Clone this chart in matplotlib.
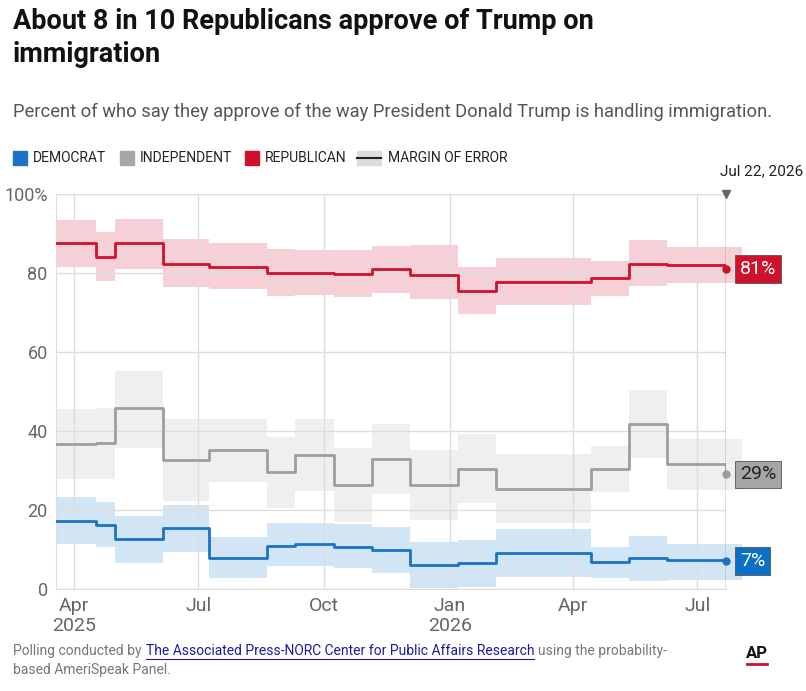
import numpy as np
import pandas as pd
import matplotlib
matplotlib.use("Agg")
import matplotlib.pyplot as plt

plt.rcParams['font.family'] = ['Roboto', 'DejaVu Sans']

# step edges of each poll period
edges = pd.to_datetime(["2025-03-19", "2025-04-17", "2025-05-01", "2025-06-05", "2025-07-09",
                        "2025-08-20", "2025-09-10", "2025-10-08", "2025-11-05", "2025-12-03",
                        "2026-01-07", "2026-02-04", "2026-04-14", "2026-05-12", "2026-06-09",
                        "2026-07-22"])

rep = [87.5, 84.1, 87.5, 82.4, 81.6, 80.1, 80.1, 79.7, 80.9, 79.5, 75.5, 77.7, 78.8, 82.4, 82.0]
rep_hi = [93.4, 90.3, 93.7, 88.5, 87.5, 86.1, 85.9, 85.7, 86.9, 87.1, 81.6, 83.7, 83.0, 88.4, 86.5]
rep_lo = [81.4, 78.1, 81.0, 76.5, 75.9, 74.3, 74.5, 73.8, 74.9, 73.3, 69.6, 71.8, 74.2, 76.7, 77.4]

ind = [36.6, 36.9, 45.7, 32.7, 35.2, 29.7, 33.9, 26.3, 32.8, 26.3, 30.4, 25.3, 30.4, 41.8, 31.6]
ind_hi = [45.5, 45.9, 55.3, 43.0, 43.0, 38.6, 43.0, 35.6, 41.7, 35.2, 39.2, 34.2, 36.2, 50.4, 37.9]
ind_lo = [27.8, 27.8, 35.8, 22.3, 27.2, 20.6, 24.8, 17.0, 24.0, 17.5, 21.7, 16.8, 24.6, 33.1, 25.1]

dem = [17.3, 16.2, 12.6, 15.4, 7.9, 11.0, 11.3, 10.7, 9.9, 6.1, 6.5, 9.2, 6.9, 7.9, 7.3]
dem_hi = [23.4, 21.9, 18.6, 21.3, 13.2, 16.8, 16.8, 16.4, 15.6, 12.0, 12.4, 15.1, 10.6, 13.4, 11.3]
dem_lo = [11.4, 10.6, 6.7, 9.4, 2.9, 5.7, 5.7, 5.2, 4.0, 0.3, 0.6, 3.1, 2.9, 2.0, 2.3]

latest = {"rep": 81, "ind": 29, "dem": 7}

fig = plt.figure(figsize=(8.06, 6.91), dpi=100)
ax = fig.add_axes([56/806, 1-589/691, 670/806, 395/691])

series = [
    (rep, rep_lo, rep_hi, "#d0112b", "#f5d0d6", latest["rep"]),
    (ind, ind_lo, ind_hi, "#9e9e9e", "#efefef", latest["ind"]),
    (dem, dem_lo, dem_hi, "#1a73c6", "#d2e5f4", latest["dem"]),
]
band_x = edges[:-1].append(pd.DatetimeIndex([pd.Timestamp("2026-08-03")]))
for vals, lo, hi, col, bcol, last in series:
    ax.fill_between(band_x, lo + [lo[-1]], hi + [hi[-1]],
                    step="post", color=bcol, lw=0, zorder=1, clip_on=False)
    ax.step(edges, vals + [vals[-1]], where="post", color=col, lw=2, zorder=3)
    ax.plot([edges[-1], edges[-1]], [vals[-1], last], color=col, lw=2, zorder=3)
    ax.plot(edges[-1], last, "o", color=col, ms=5, zorder=4, clip_on=False)

ax.set_xlim(edges[0], edges[-1])
ax.set_ylim(0, 100)
ax.set_yticks([0, 20, 40, 60, 80, 100])
ax.set_yticklabels(["0", "20", "40", "60", "80", "100%"])
ticks = pd.to_datetime(["2025-04-01", "2025-07-01", "2025-10-01", "2026-01-01", "2026-04-01", "2026-07-01"])
ax.set_xticks(ticks)
ax.set_xticklabels(["Apr\n2025", "Jul", "Oct", "Jan\n2026", "Apr", "Jul"])
ax.grid(True, color="#dddddd", lw=1, zorder=0)
for s in ["top", "right"]:
    ax.spines[s].set_visible(False)
ax.spines["left"].set_color("#dddddd")
ax.spines["bottom"].set_color("#dddddd")
ax.tick_params(length=0, labelsize=13, colors="#666666", pad=6)
ax.tick_params(axis="x", labelsize=14, colors="#666666")
for lab in ax.get_xticklabels():
    lab.set_linespacing(1.1)

# date marker
ax.axvline(edges[-1], color="#666666", lw=1, zorder=5)
ax.plot(edges[-1], 100, marker="v", color="#666666", ms=6, clip_on=False, zorder=5)
fig.text(720/806, 1-171/691, "Jul 22, 2026", fontsize=11, color="#222222", va="center")

# end labels
for val, fc, tc in [(latest["rep"], "#d0112b", "white"), (latest["ind"], "#a6a6a6", "#222222"),
                    (latest["dem"], "#0b6fc6", "white")]:
    ax.annotate(f"{val}%", xy=(edges[-1], val), xytext=(10, 0), textcoords="offset points",
                va="center", ha="left", fontsize=14, color=tc, annotation_clip=False,
                bbox=dict(boxstyle="square,pad=0.25", fc=fc, ec="#555555", lw=0.6))

# titles
fig.text(13/806, 1-8/691, "About 8 in 10 Republicans approve of Trump on\nimmigration",
         fontsize=19.5, fontweight="bold", va="top", color="#111111", linespacing=1.3)
fig.text(13/806, 1-112/691,
         "Percent of who say they approve of the way President Donald Trump is handling immigration.",
         fontsize=13.2, color="#555555", va="center")

# legend
leg = [("DEMOCRAT", "#1a73c6", 13), ("INDEPENDENT", "#a6a6a6", 120), ("REPUBLICAN", "#d0112b", 245)]
for name, col, x in leg:
    fig.patches.append(plt.Rectangle((x/806, 1-165/691), 14/806, 14/691, color=col,
                                     transform=fig.transFigure))
    fig.text((x+20)/806, 1-158/691, name, fontsize=10, va="center", color="#222222")
fig.patches.append(plt.Rectangle((357/806, 1-165/691), 24/806, 14/691, color="#dddddd",
                                 transform=fig.transFigure))
fig.lines.append(plt.Line2D([357/806, 381/806], [1-158/691, 1-158/691], color="#222222", lw=1.5,
                            transform=fig.transFigure))
fig.text(388/806, 1-158/691, "MARGIN OF ERROR", fontsize=10, va="center", color="#222222")

# footer, pieces placed one after another
renderer = fig.canvas.get_renderer()
x = 13
for piece, col in [("Polling conducted by", "#777777"),
                   ("The Associated Press-NORC Center for Public Affairs Research", "#1a1aa6"),
                   ("using the probability-", "#777777")]:
    t = fig.text(x/806, 1-651/691, piece, fontsize=10, color=col, va="center")
    w = t.get_window_extent(renderer).width
    if col == "#1a1aa6":
        fig.lines.append(plt.Line2D([x/806, (x+w)/806], [1-659/691, 1-659/691], color=col, lw=0.8,
                                    transform=fig.transFigure))
    x += w + 4
fig.text(13/806, 1-670/691, "based AmeriSpeak Panel.", fontsize=10, color="#777777", va="center")
fig.text(757/806, 1-653/691, "AP", fontsize=12, fontweight="bold", color="#111111", ha="center", va="center")
fig.lines.append(plt.Line2D([747/806, 767/806], [1-664/691, 1-664/691], color="#d0112b", lw=2,
                            transform=fig.transFigure))

fig.savefig("out.png", dpi=100)
